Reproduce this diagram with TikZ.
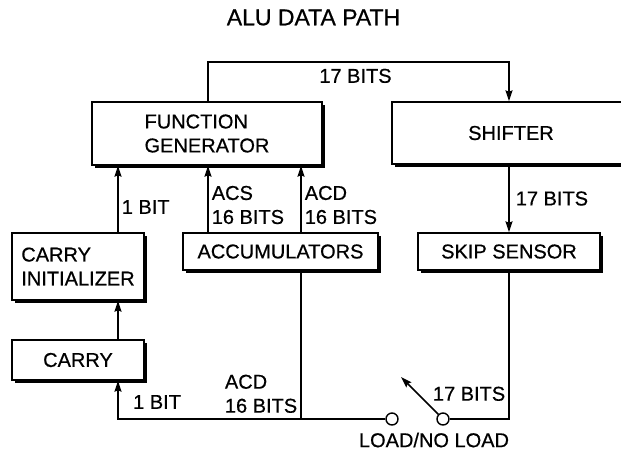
\documentclass[tikz,border=0pt]{standalone}
\usepackage{fontspec}
\setmainfont{Liberation Sans}[FakeBold=0.6]
\usetikzlibrary{arrows.meta,shadows}

\tikzset{
  blk/.style={draw, fill=white, line width=1.4pt, align=left,
    drop shadow={shadow xshift=2.5pt, shadow yshift=-3pt, fill=black, opacity=1}},
  bus/.style={line width=1.6pt},
  lbl/.style={inner sep=3pt, align=left},
  sw/.style={circle, draw, fill=white, line width=1.4pt, minimum size=12pt, inner sep=0pt},
  >={Stealth[length=11pt,width=7pt,inset=1.5pt]}
}

\begin{document}
\begin{tikzpicture}[x=1pt, y=-1pt, font=\fontsize{20}{24}\selectfont]
        \useasboundingbox (0,0) rectangle (621,451);
        \clip (0,0) rectangle (621,451);

        \node[font=\fontsize{23}{26}\selectfont] (title) at (313.5,17.5) {ALU DATA PATH};

        % blocks
        \node[blk, minimum width=230pt, minimum height=63pt] (fg) at (207,133.5) {FUNCTION\\GENERATOR};
        \node[blk, minimum width=238pt, minimum height=62pt] (sh) at (511,133) {SHIFTER};
        \node[blk, minimum width=182pt, minimum height=37pt] (sk) at (509,251.5) {SKIP SENSOR};
        \node[blk, minimum width=195pt, minimum height=37pt] (acc) at (280.5,251.5) {ACCUMULATORS};
        \node[blk, minimum width=132pt, minimum height=67pt] (ci) at (78,266.5) {CARRY\\INITIALIZER};
        \node[blk, minimum width=132pt, minimum height=40pt] (carry) at (78,360) {CARRY};

        % columns and rows of the wiring
        \coordinate (cx) at (118,0);
        \coordinate (sx) at (208,0);
        \coordinate (dx) at (301,0);
        \coordinate (hx) at (509,0);
        \coordinate (top) at (0,62);
        \coordinate (bus) at (0,419);
        \coordinate (tip) at (401,377);

        \draw[bus,->] (ci.north -| cx) -- (fg.south -| cx) node[pos=0.38, right, lbl] (bit1) {1 BIT};
        \draw[bus,->] (acc.north -| sx) -- (fg.south -| sx) node[pos=0.41, right, lbl] (acs) {ACS\\16 BITS};
        \draw[bus,->] (acc.north -| dx) -- (fg.south -| dx) node[pos=0.41, right, lbl] (acd) {ACD\\16 BITS};
        \draw[bus,->] (carry.north -| cx) -- (ci.south -| cx);

        \draw[bus,->] (fg.north -| sx) -- (sx |- top) -- (hx |- top) node[pos=0.49, below, inner sep=6pt] (loop) {17 BITS} -- (sh.north -| hx);
        \draw[bus,->] (sh.south -| hx) -- (sk.north -| hx) node[midway, right, inner sep=6pt] (sbits) {17 BITS};

        % load switch
        \node[sw] (sw1) at (392,419) {};
        \node[sw] (sw2) at (443,419) {};
        \draw[bus,->] (sw1) -- (cx |- bus) -- (carry.south -| cx);
        \draw[bus] (acc.south -| dx) -- (dx |- bus) node[pos=0.83, left, lbl] (acd2) {ACD\\16 BITS};
        \draw[bus] (sw2) -- (hx |- bus) -- (sk.south -| hx) node[pos=0.17, left, lbl] (swbits) {17 BITS};
        \draw[bus,->] (sw2) -- (tip);

        \node[lbl, anchor=west] (bit2) at (130,402) {1 BIT};
        \node (load) at (434,440) {LOAD/NO LOAD};
\end{tikzpicture}
\end{document}
